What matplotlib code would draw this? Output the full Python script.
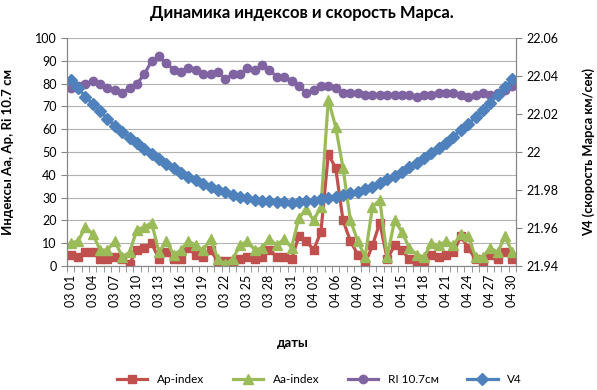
"""
Dynamics of the geomagnetic indices and the speed of Mars
"""

#=================================================
#IMPORTS
#=================================================
import numpy as np;
import matplotlib;
matplotlib.use('Agg');
from matplotlib import pyplot as plt;
from matplotlib.ticker import FuncFormatter;

plt.rcParams['font.family'] = ['Lato', 'DejaVu Sans'];

#=================================================
#DATA
#=================================================
dates = ['03 %02d' % d for d in range(1, 32)] + ['04 %02d' % d for d in range(1, 31)];

ap_index = [5, 4, 6, 6, 3, 3, 4, 3, 1, 7,
            8, 10, 3, 6, 3, 3, 8, 5, 4, 7,
            2, 2, 2, 3, 4, 3, 4, 7, 4, 4,
            3, 13, 11, 7, 15, 49, 43, 20, 11, 5,
            1, 9, 19, 3, 9, 7, 3, 1, 2, 5,
            4, 5, 6, 13, 8, 3, 1, 5, 3, 6, 3];

aa_index = [10, 11, 17, 14, 7, 7, 11, 4, 6, 16,
            17, 19, 6, 11, 5, 7, 11, 9, 7, 12,
            3, 1, 3, 9, 11, 7, 8, 12, 9, 12,
            8, 21, 25, 20, 26, 73, 61, 43, 20, 11,
            4, 26, 29, 4, 20, 15, 8, 5, 4, 10,
            9, 11, 9, 14, 13, 4, 4, 8, 6, 13, 6];

ri_107 = [78, 79, 80, 81, 80, 78, 77, 76, 78, 80,
          84, 90, 92, 89, 86, 85, 87, 86, 84, 84,
          85, 82, 84, 84, 87, 86, 88, 86, 83, 83,
          81, 79, 76, 77, 79, 79, 78, 76, 76, 76,
          75, 75, 75, 75, 75, 75, 75, 74, 75, 75,
          76, 76, 76, 75, 74, 75, 76, 75, 76, 77, 79];

v4 = [22.0379, 22.0335, 22.0291, 22.0253, 22.0214, 22.0175, 22.0138, 22.0107, 22.0075, 22.0046,
      22.0016, 21.9988, 21.9963, 21.9937, 21.9914, 21.9891, 21.9870, 21.9851, 21.9833, 21.9817,
      21.9802, 21.9788, 21.9774, 21.9765, 21.9756, 21.9747, 21.9744, 21.9742, 21.9738, 21.9738,
      21.9733, 21.9738, 21.9742, 21.9744, 21.9751, 21.9756, 21.9765, 21.9772, 21.9783, 21.9791,
      21.9804, 21.9818, 21.9835, 21.9856, 21.9875, 21.9896, 21.9919, 21.9941, 21.9967, 21.9993,
      22.0019, 22.0049, 22.0081, 22.0116, 22.0147, 22.0183, 22.0221, 22.0259, 22.0300, 22.0341, 22.0383];

#=================================================
#PLOT
#=================================================
axis_gray = '#868686';

fig = plt.figure(figsize=(5.97, 3.9), dpi=100);
ax = fig.add_axes([67/597, 1-266/390, 449/597, 228/390]);

x = np.arange(len(dates));

l1, = ax.plot(x, ap_index, color='#C0504D', marker='s', ms=5.5, lw=2.3, label='Ap-index');
l2, = ax.plot(x, aa_index, color='#9BBB59', marker='^', ms=7, lw=2.3, label='Aa-index');
l3, = ax.plot(x, ri_107, color='#8064A2', marker='o', ms=6, lw=2.3, label='RI 10.7см');

ax.set_xlim(-0.5, len(dates)-0.5);
ax.set_ylim(0, 100);
ax.set_yticks(range(0, 101, 10));
ax.yaxis.grid(True, color='#b3b3b3', lw=0.8);
ax.set_axisbelow(True);

ax.set_xticks(x);
ax.set_xticklabels([d if i % 3 == 0 else '' for i, d in enumerate(dates)], rotation=90, fontsize=9);
ax.set_xticks(np.arange(-0.5, len(dates), 1.0), minor=True);
ax.tick_params(axis='x', which='major', length=0, pad=6);
ax.tick_params(axis='x', which='minor', length=4, color=axis_gray);
ax.tick_params(axis='y', length=4, color=axis_gray, labelsize=9);

ax2 = ax.twinx();
l4, = ax2.plot(x, v4, color='#4F81BD', marker='D', ms=6, lw=2.3, label='V4');
ax2.set_ylim(21.94, 22.06);
ax2.set_yticks(np.arange(21.94, 22.0601, 0.02));
ax2.yaxis.set_major_formatter(FuncFormatter(lambda v, p: ('%.2f' % v).rstrip('0').rstrip('.')));
ax2.tick_params(axis='y', length=4, color=axis_gray, labelsize=9);

for a in (ax, ax2):
    a.spines['top'].set_visible(False);
    for s in ('left', 'right', 'bottom'):
        a.spines[s].set_color(axis_gray);

ax.set_ylabel('Индексы Aa, Ap, Ri 10.7 см', fontsize=9.5, fontweight='bold');
ax.yaxis.set_label_coords(-0.118, 0.5);
ax2.set_ylabel('V4 (скорость Марса км/сек)', fontsize=9.3, fontweight='bold');
ax2.yaxis.set_label_coords(1.147, 0.5);
ax.set_xlabel('даты', fontsize=9.5, fontweight='bold');
ax.xaxis.set_label_coords(0.503, -0.31);

fig.text(302/597, 1-13/390, 'Динамика индексов и скорость Марса.', ha='center', va='center',
         fontsize=12, fontweight='bold');

fig.legend(handles=[l1, l2, l3, l4], loc='center', bbox_to_anchor=(0.535, 0.026), ncol=4,
           frameon=False, fontsize=8.5, handlelength=2.6, columnspacing=2.4);

fig.savefig('out.png', dpi=100);
